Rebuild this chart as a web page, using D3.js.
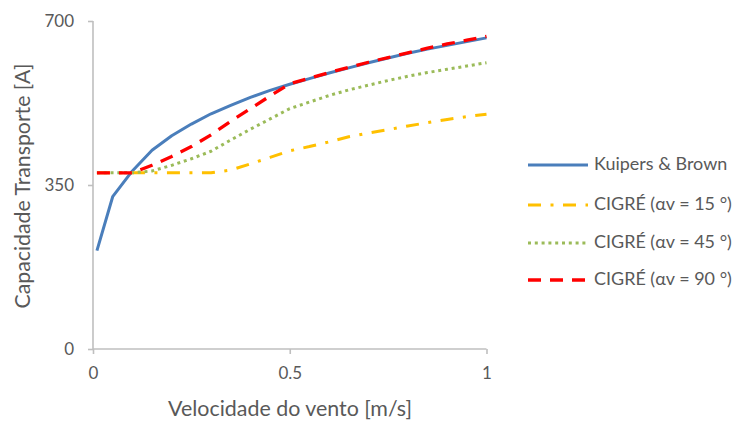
<!DOCTYPE html>
<html><head><meta charset="utf-8">
<script src="https://cdn.jsdelivr.net/npm/d3@7"></script>
<style>body{margin:0;background:#fff}svg{display:block}text{font-family:Lato,"Open Sans",sans-serif;fill:#595959}</style>
</head><body><svg id="c" width="736" height="424"></svg>
<script>
const xValues = [0.01,0.05,0.1,0.15,0.2,0.25,0.3,0.35,0.4,0.45,0.5,0.55,0.6,0.65,0.7,0.75,0.8,0.85,0.9,0.95,1.0];
const kuipersBrown = [210,325,380,424,455,480,502,520,537,552,565,577,589,600,611,621,631,640,648,656,664];
const cigre15 = [376,376,376,376,376,376,376,382,395,409,423,432,442,453,461,468,476,483,490,496,501];
const cigre45 = [376,376,376,380,392,406,422,446,469,491,513,527,541,553,563,573,582,590,597,604,611];
const cigre90 = [376,376,376,392,411,432,457,486,513,540,566,578,590,601,612,622,632,642,651,659,667];
const seriesNames = ["Kuipers & Brown","CIGRÉ (αv = 15 °)","CIGRÉ (αv = 45 °)","CIGRÉ (αv = 90 °)"];
const xTicks = [0,0.5,1];
const yTicks = [0,350,700];
const xTitle = "Velocidade do vento [m/s]";
const yTitle = "Capacidade Transporte [A]";

const styles = [
  {color:"#4A7EBB", w:3, dash:null},
  {color:"#FFC000", w:3, dash:"13,9.5,3,9.5"},
  {color:"#9BBB59", w:3, dash:"3,3.8"},
  {color:"#FF0000", w:3.3, dash:"13,9"}
];
const seriesData = [kuipersBrown,cigre15,cigre45,cigre90];

const svg = d3.select("#c");
const x = d3.scaleLinear().domain([0,1]).range([93,486.5]);
const y = d3.scaleLinear().domain([0,700]).range([349,21]);
const axisColor = "#BFBFBF";

const gy = svg.append("g").attr("transform","translate(93,0)")
  .call(d3.axisLeft(y).tickValues(yTicks).tickSize(5).tickPadding(14).tickFormat(d3.format("d")));
const gx = svg.append("g").attr("transform","translate(0,349)")
  .call(d3.axisBottom(x).tickValues(xTicks).tickSize(5).tickPadding(13).tickFormat(d=>d===0.5?"0.5":String(d)));
[gx,gy].forEach(g=>{
  g.select(".domain").attr("stroke",axisColor).attr("stroke-width",1.6).attr("d", g===gx?"M93,0H486.5":"M0,21V349");
  g.selectAll(".tick line").attr("stroke",axisColor).attr("stroke-width",1.6);
  g.selectAll(".tick text").style("font-size","17px").style("font-family","Lato, 'Open Sans', sans-serif").attr("fill","#595959");
});
gx.selectAll(".tick text").attr("dy","0.71em").attr("y",18);

const line = d3.line().x((d,i)=>x(xValues[i])).y(d=>y(d));
seriesData.forEach((s,k)=>{
  const p = svg.append("path").datum(s).attr("d",line).attr("fill","none")
    .attr("stroke",styles[k].color).attr("stroke-width",styles[k].w)
    .attr("stroke-linecap","butt").attr("stroke-linejoin","round");
  if(styles[k].dash) p.attr("stroke-dasharray",styles[k].dash);
});

function fit(t, target){
  const size = 18; t.style("font-size",size+"px");
  const w = t.node().getComputedTextLength();
  const s = size*target/w;
  t.style("font-size",s.toFixed(2)+"px");
  return s;
}
const xt = svg.append("text").attr("x",290).attr("y",411).attr("text-anchor","middle").attr("dominant-baseline","middle").text(xTitle);
fit(xt,244);
const yt = svg.append("text").attr("transform","translate(25,186) rotate(-90)").attr("text-anchor","middle").attr("dominant-baseline","middle").text(yTitle);
fit(yt,245);

const legY = [165,205,243,280];
const legTexts = [];
let minSize = 100;
seriesNames.forEach((n,k)=>{
  const l = svg.append("line").attr("x1",528).attr("x2",588).attr("y1",legY[k]).attr("y2",legY[k])
    .attr("stroke",styles[k].color).attr("stroke-width",styles[k].w).attr("stroke-linecap","butt");
  if(styles[k].dash) l.attr("stroke-dasharray",styles[k].dash);
  const t = svg.append("text").attr("x",594).attr("y",legY[k]).attr("dominant-baseline","middle").text(n);
  minSize = Math.min(minSize, fit(t, 138));
  legTexts.push(t);
});
legTexts.forEach(t=>t.style("font-size",minSize.toFixed(2)+"px"));
</script></body></html>
